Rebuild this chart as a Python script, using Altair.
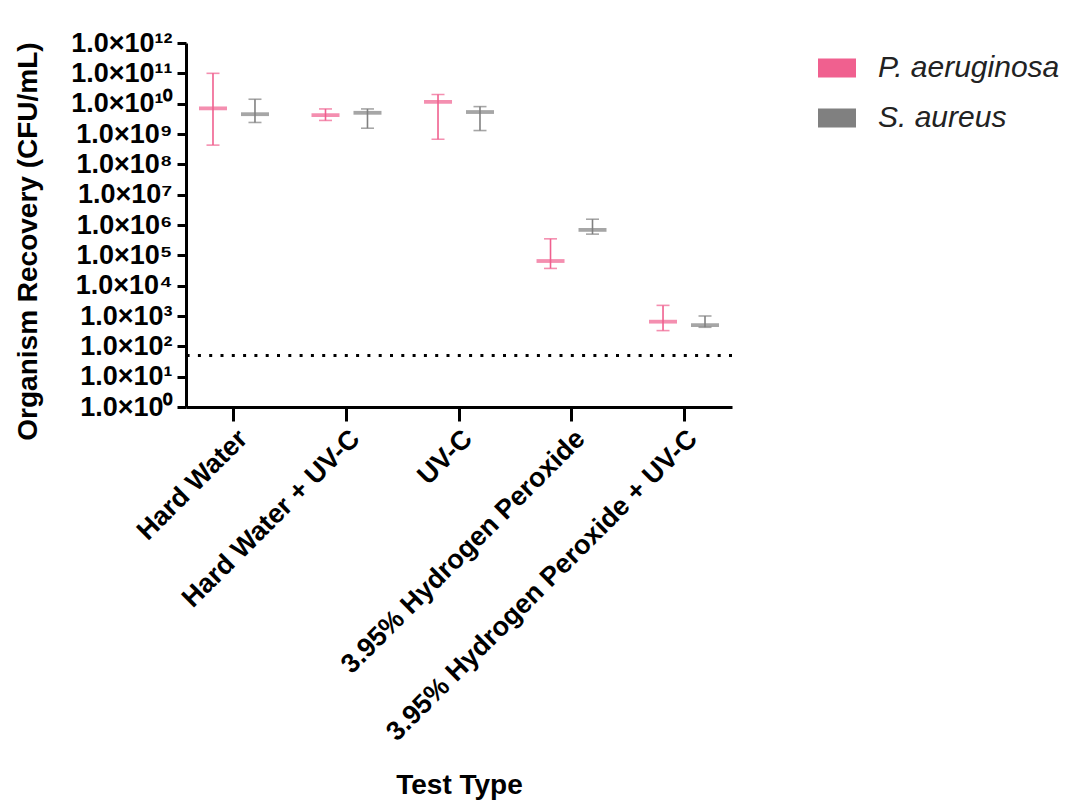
import altair as alt
import pandas as pd

categories = ["Hard Water", "Hard Water + UV-C", "UV-C",
              "3.95% Hydrogen Peroxide", "3.95% Hydrogen Peroxide + UV-C"]
organisms = ["P. aeruginosa", "S. aureus"]
colors = ["#F0608F", "#808080"]

pa_mean = [7e9, 4.2e9, 1.15e10, 6.5e4, 650]
pa_low = [4.3e8, 2.8e9, 6.7e8, 3.7e4, 330]
pa_high = [1e11, 6.7e9, 2e10, 3.5e5, 2240]
sa_mean = [4.5e9, 5e9, 5.3e9, 6.9e5, 500]
sa_low = [2.4e9, 1.55e9, 1.3e9, 5e5, 425]
sa_high = [1.4e10, 6.7e9, 8e9, 1.55e6, 1000]
limit_of_detection = [50]

tick_values = [10.0 ** e for e in range(0, 13)]
sup = str.maketrans("0123456789", "⁰¹²³⁴⁵⁶⁷⁸⁹")
tick_labels = ["1.0×10" + str(e).translate(sup) for e in range(0, 13)]

rows = []
for i, c in enumerate(categories):
    rows.append(dict(cat=c, org=organisms[0], mean=pa_mean[i], low=pa_low[i], high=pa_high[i]))
    rows.append(dict(cat=c, org=organisms[1], mean=sa_mean[i], low=sa_low[i], high=sa_high[i]))
df = pd.DataFrame(rows)
lod_df = pd.DataFrame({"lod": limit_of_detection})

FONT = "Liberation Sans"
label_arr = "[" + ",".join("'" + t + "'" for t in tick_labels) + "]"

x_enc = alt.X("cat:N", sort=categories, title="Test Type",
              scale=alt.Scale(paddingInner=0.147, paddingOuter=0),
              axis=alt.Axis(labelAngle=-45, labelAlign="right", labelBaseline="top",
                            tickSize=14, labelPadding=4, labelLimit=0,
                            titleY=364, titleBaseline="top"))
xoff = alt.XOffset("org:N", sort=organisms,
                   scale=alt.Scale(paddingOuter=0.143, paddingInner=0))
color = alt.Color("org:N", sort=organisms,
                  scale=alt.Scale(domain=organisms, range=colors),
                  legend=alt.Legend(title=None, orient="none", legendX=632, legendY=6,
                                    symbolType="M-1,-0.5H1V0.5H-1Z", symbolSize=1444,
                                    symbolStrokeWidth=0, symbolOpacity=1,
                                    labelFont=FONT, labelFontSize=30, labelFontStyle="italic",
                                    labelColor="#222222", labelOffset=22, rowPadding=16,
                                    labelLimit=0))

yscale = alt.Scale(type="log", domain=[1, 1e12])
y_axis = alt.Axis(values=tick_values, labelExpr=label_arr + "[round(log(datum.value)/LN10)]",
                  tickSize=9, title="Organism Recovery (CFU/mL)", labelPadding=5,
                  titleY=198)

base = alt.Chart(df)

rule = base.mark_rule(strokeWidth=1.6).encode(
    x=x_enc, xOffset=xoff,
    y=alt.Y("low:Q", scale=yscale, axis=y_axis),
    y2="high:Q", color=color)
cap_low = base.mark_tick(size=13, thickness=1.6).encode(
    x=x_enc, xOffset=xoff, y=alt.Y("low:Q", scale=yscale), color=color)
cap_high = base.mark_tick(size=13, thickness=1.6).encode(
    x=x_enc, xOffset=xoff, y=alt.Y("high:Q", scale=yscale), color=color)
mean = base.mark_tick(size=28, thickness=3.8).encode(
    x=x_enc, xOffset=xoff, y=alt.Y("mean:Q", scale=yscale), color=color)
lod = alt.Chart(lod_df).mark_rule(color="black", strokeWidth=3, strokeDash=[3, 8.3]).encode(
    y=alt.Y("lod:Q", scale=yscale))

chart = alt.layer(rule, cap_low, cap_high, mean, lod).properties(
    width=546, height=364,
    padding={"left": 14, "top": 29, "right": 5, "bottom": 5},
).configure_view(stroke=None).configure_axis(
    domainColor="black", domainWidth=3, tickColor="black", tickWidth=3,
    grid=False, labelFont=FONT, labelFontWeight="bold", labelFontSize=27,
    labelColor="black", titleFont=FONT, titleFontWeight="bold", titleFontSize=28,
    titleColor="black", labelOverlap=False, labelBound=False
).configure_axisY(titlePadding=28)

chart.save("out.html", embed_options={"renderer": "svg", "actions": False})
